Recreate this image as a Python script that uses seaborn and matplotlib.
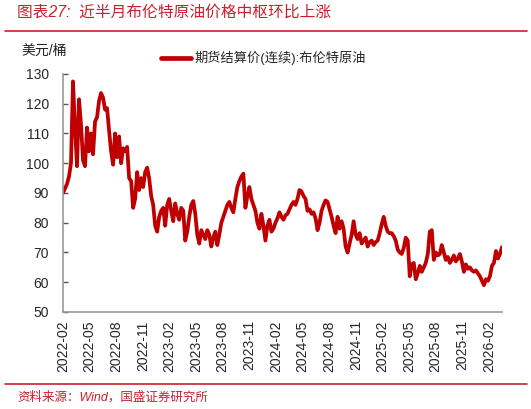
import matplotlib
matplotlib.use("Agg")
import matplotlib.pyplot as plt
from matplotlib.lines import Line2D
import seaborn as sns
import numpy as np
import pandas as pd

# Brent futures settlement (continuous), USD/bbl
brent = [
    90.0, 91.5, 93.0, 95.5, 100.0, 127.5, 112.0, 99.0, 121.5, 113.0,
    101.0, 99.0, 112.0, 104.0, 110.0, 103.0, 114.0, 115.5, 121.0, 123.6,
    122.0, 118.0, 118.5, 111.0, 104.0, 99.5, 110.0, 102.0, 109.0, 100.0,
    105.0, 104.0, 105.5, 95.0, 94.0, 85.0, 88.0, 97.0, 91.0, 95.0,
    92.0, 97.0, 98.5, 95.0, 89.0, 86.0, 79.0, 77.0, 82.0, 84.0,
    85.0, 79.0, 86.0, 88.0, 84.0, 80.5, 86.5, 83.0, 81.0, 85.0,
    84.0, 74.0, 77.0, 82.0, 86.0, 87.3, 83.0, 76.0, 73.0, 77.5,
    76.0, 74.5, 77.5, 76.0, 72.0, 75.0, 77.0, 72.5, 76.0, 80.0,
    82.0, 84.0, 86.0, 87.0, 85.0, 83.5, 88.0, 92.0, 94.0, 95.5,
    96.5, 85.0, 89.0, 92.0, 88.0, 86.0, 84.0, 80.0, 78.0, 83.0,
    79.0, 74.0, 79.0, 81.0, 77.0, 78.0, 80.0, 81.5, 83.5, 82.0,
    81.0, 82.5, 83.0, 84.5, 86.0, 87.0, 86.0, 88.0, 91.0, 90.5,
    89.0, 88.0, 84.0, 84.5, 83.0, 83.5, 81.5, 77.5, 80.0, 84.0,
    86.0, 87.5, 87.0, 84.5, 82.0, 79.0, 76.5, 82.0, 78.0, 80.5,
    78.0, 72.0, 70.0, 73.0, 76.0, 80.5, 76.0, 74.5, 76.5, 73.0,
    74.0, 75.0, 72.0, 73.5, 74.0, 72.5, 73.5, 74.0, 76.5, 79.5,
    82.0, 79.0, 77.0, 76.5, 76.5, 75.5, 74.0, 71.0, 70.0, 69.5,
    71.5, 75.0, 74.0, 62.0, 66.0, 66.5, 61.0, 63.0, 65.5, 63.5,
    65.0, 66.5, 69.5, 77.0, 77.5, 67.5, 70.0, 69.0, 69.5, 72.5,
    70.0, 67.5, 68.5, 66.5, 67.5, 69.0, 67.0, 68.0, 69.5, 67.0,
    63.5, 66.0, 64.5, 65.0, 64.0, 63.5, 64.0, 63.0, 62.0, 60.5,
    59.0, 61.0, 60.5, 62.0, 65.5, 66.5, 70.5, 68.0, 69.5, 71.8,
]

tick_labels = [
    "2022-02", "2022-05", "2022-08", "2022-11",
    "2023-02", "2023-05", "2023-08", "2023-11",
    "2024-02", "2024-05", "2024-08", "2024-11",
    "2025-02", "2025-05", "2025-08", "2025-11",
    "2026-02",
]
y_ticks = [50, 60, 70, 80, 90, 100, 110, 120, 130]

title = "图表27:  近半月布伦特原油价格中枢环比上涨"
series_name = "期货结算价(连续):布伦特原油"
unit = "美元/桶"
source = "资料来源：Wind，国盛证券研究所"

line_red = "#C00000"
text_red = "#C8202C"

sns.set_theme(style="white")
plt.rcParams["font.family"] = ["Liberation Sans", "Noto Sans CJK SC", "DejaVu Sans"]

df = pd.DataFrame({"idx": np.arange(len(brent)), "price": brent})

fig = plt.figure(figsize=(5.31, 4.09), dpi=100)
ax = fig.add_axes([0.1186, 0.2372, 0.8267, 0.5819])

sns.lineplot(data=df, x="idx", y="price", ax=ax, color=line_red,
             linewidth=2.7, label=series_name, legend=False)

ax.set_xlim(0, len(brent) - 1)
ax.set_ylim(50, 130)
ax.set_yticks(y_ticks)
# category axis: label every ~13.3 points
ax.set_xticks(np.arange(len(tick_labels)) * 13.28)
ax.set_xticklabels(tick_labels, rotation=90, fontsize=10)
ax.tick_params(axis="y", direction="in", length=3.5, width=1, color="#555555",
               labelsize=10, pad=10, left=True)
ax.tick_params(axis="x", length=0, pad=6)
ax.set_xlabel("")
ax.set_ylabel("")

for side in ["top", "right"]:
    ax.spines[side].set_visible(False)
for side in ["left", "bottom"]:
    ax.spines[side].set_color("#999999")
    ax.spines[side].set_linewidth(1.2)

fig.legend(handles=[Line2D([], [], color=line_red, linewidth=3.4)],
           labels=[series_name], loc="center", bbox_to_anchor=(0.496, 0.858),
           frameon=False, fontsize=9.5, handlelength=2.3, handletextpad=0.2)

fig.text(0.041, 0.877, unit, fontsize=10, color="#222222", va="center")
fig.text(0.032, 0.970, title, fontsize=11.3, color=text_red, style="italic", va="center")
fig.text(0.032, 0.029, source, fontsize=9, color=text_red, style="italic", va="center")

fig.add_artist(Line2D([0.01, 0.993], [0.925, 0.925], color=text_red, linewidth=1.2,
                      transform=fig.transFigure))
fig.add_artist(Line2D([0.01, 0.993], [0.061, 0.061], color=text_red, linewidth=1.2,
                      transform=fig.transFigure))

fig.savefig("out.png", dpi=100)
